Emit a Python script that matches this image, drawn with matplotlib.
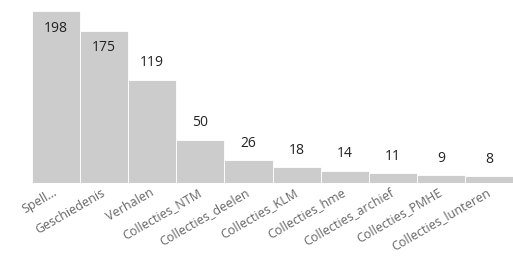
import matplotlib.pyplot as plt
from matplotlib.transforms import ScaledTranslation

categories = ["Spell...", "Geschiedenis", "Verhalen", "Collecties_NTM", "Collecties_deelen",
              "Collecties_KLM", "Collecties_hme", "Collecties_archief", "Collecties_PMHE",
              "Collecties_lunteren"]
counts = [198, 175, 119, 50, 26, 18, 14, 11, 9, 8]

plt.rcParams['font.family'] = ['Open Sans', 'DejaVu Sans']

fig = plt.figure(figsize=(5.13, 2.58), dpi=100)
ax = fig.add_axes([32 / 513, 1 - 183 / 258, 1 - 32 / 513, 172 / 258])

x = range(len(counts))
ax.bar(x, counts, width=1.0, color="#cccccc", edgecolor="white", linewidth=0.6)
ax.set_xlim(-0.5, len(counts) - 0.5)
ax.set_ylim(0, 198)

for i, v in enumerate(counts):
    # the two tallest labels do not fit above, so they sit inside the bar
    off = -17 if v > 150 else 17
    ax.annotate(str(v), (i, v), xytext=(0, off), textcoords="offset pixels",
                ha="center", va="center", fontsize=10, color="#222222")

ax.set_xticks(list(x))
ax.set_xticklabels(categories, rotation=30, ha="right", rotation_mode="anchor",
                   fontsize=9, color="#666666")
ax.tick_params(axis="x", length=0, pad=2)
shift = ScaledTranslation(-3 / 100, 0, fig.dpi_scale_trans)
for lab in ax.get_xticklabels():
    lab.set_transform(lab.get_transform() + shift)
ax.set_yticks([])
for s in ax.spines.values():
    s.set_visible(False)

fig.savefig("out.png", dpi=100)
